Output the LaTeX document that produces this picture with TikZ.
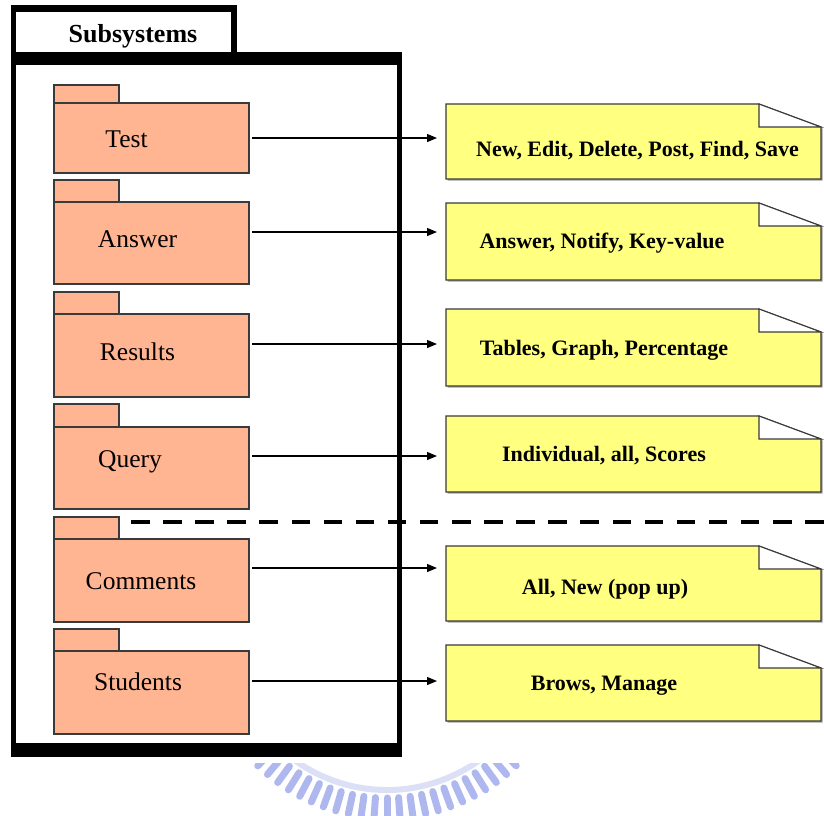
\documentclass[tikz,border=0pt]{standalone}
\usepackage{fontspec}
\setmainfont{Liberation Serif}
\usetikzlibrary{arrows.meta,calc}

\definecolor{pkgfill}{HTML}{FFB592}
\definecolor{notefill}{HTML}{FFFF80}
\definecolor{edgegray}{HTML}{3A3A3A}
\definecolor{shadowgray}{HTML}{A0A0A0}
\definecolor{sealblue}{HTML}{AFB8EE}
\definecolor{seallight}{HTML}{DCE0F6}

% package: name, label, tab top, body top, body height, label x, label y
\newcommand{\pkgbox}[7]{%
  \draw[pkgline] (54,#3) rectangle (119,#4);
  \node[pkgbody, minimum height=#5pt] (#1) at (54,#4) {};
  \node[pkglabel] (#1-label) at (#6,#7) {#2};
}

% note with folded corner: name, top, height, text x, text y, text
\newcommand{\notebox}[6]{%
  \node[notearea, minimum height=#3pt] (#1) at (446,#2) {};
  \fill[shadowgray] ([shift={(1.6pt,-1.6pt)}]#1.north west)
    -- ([shift={(-60.4pt,-1.6pt)}]#1.north east)
    -- ([shift={(1.6pt,-24.6pt)}]#1.north east)
    -- ([shift={(1.6pt,-1.6pt)}]#1.south east)
    -- ([shift={(1.6pt,-1.6pt)}]#1.south west) -- cycle;
  \draw[noteline, fill=notefill] (#1.north west)
    -- ([xshift=-62pt]#1.north east)
    -- ([yshift=-23pt]#1.north east)
    -- (#1.south east) -- (#1.south west) -- cycle;
  \draw[noteline, fill=white] ([xshift=-62pt]#1.north east)
    -- ([xshift=-62pt, yshift=-23pt]#1.north east)
    -- ([yshift=-23pt]#1.north east) -- cycle;
  \node[notelabel] (#1-text) at (#4,#5) {#6};
}

\begin{document}
\begin{tikzpicture}[x=1pt, y=-1pt,
  pkgline/.style={draw=edgegray, line width=1.1pt, fill=pkgfill},
  pkgbody/.style={pkgline, anchor=north west, minimum width=195pt, inner sep=0pt, outer sep=0pt},
  pkglabel/.style={font=\fontsize{25.5}{30}\selectfont, inner sep=0pt, text height=16.9pt, text depth=0pt},
  notearea/.style={anchor=north west, minimum width=375pt, inner sep=0pt, outer sep=0pt},
  noteline/.style={draw=edgegray, line width=1.1pt, line join=miter},
  notelabel/.style={font=\bfseries\fontsize{22}{26}\selectfont, inner sep=0pt, text height=14.6pt, text depth=0pt},
  titlelabel/.style={font=\bfseries\fontsize{26}{30}\selectfont, inner sep=0pt, text height=17.2pt, text depth=0pt},
  conn/.style={line width=1.2pt, -{Triangle[length=10pt, width=8pt]}, shorten <=3pt, shorten >=9pt},
  sepline/.style={line width=4pt, dash pattern=on 18.5pt off 13.6pt}
]
% page area
\useasboundingbox (0,0) rectangle (824,815);
\fill[white] (0,0) rectangle (824,815);

% faint seal in the lower margin
\coordinate (seal) at (387,632);
\begin{scope}
  \clip (0,763) rectangle (824,815);
  \draw[seallight, line width=6pt] ([shift={(40:158)}]seal) arc[start angle=40, end angle=140, radius=158];
  \foreach \a in {46,50,...,134}
    \draw[sealblue, line width=7pt, line cap=round] ($(seal)+(\a:166)$) -- ($(seal)+(\a:186)$);
\end{scope}

% subsystem frame with its title tab
\fill[black] (11,5) rectangle (237,52);
\fill[white] (16,12) rectangle (231,52);
\fill[black] (11,52) rectangle (402,757);
\fill[white] (16,65) rectangle (397,743);
\node[titlelabel] (title) at (133,33.5) {Subsystems};

% packages
\pkgbox{test}{Test}{85}{103}{70}{126.5}{139}
\pkgbox{answer}{Answer}{180}{202}{82}{137.5}{239}
\pkgbox{results}{Results}{292}{314}{83}{137.5}{352}
\pkgbox{query}{Query}{404}{427}{82}{130}{459}
\pkgbox{comments}{Comments}{517}{539}{83}{141}{581}
\pkgbox{students}{Students}{629}{651}{83}{138}{682}

% notes
\notebox{ntest}{104}{75}{637.5}{149}{New, Edit, Delete, Post, Find, Save}
\notebox{nanswer}{203}{77}{602}{241}{Answer, Notify, Key-value}
\notebox{nresults}{309}{77}{604}{348}{Tables, Graph, Percentage}
\notebox{nquery}{416}{76}{604}{454}{Individual, all, Scores}
\notebox{ncomments}{546}{75}{605}{587}{All, New (pop up)}
\notebox{nstudents}{645}{76}{604}{683}{Brows, Manage}

% connectors
\coordinate (test-out) at ([yshift=-35pt]test.north east);
\coordinate (answer-out) at ([yshift=-30pt]answer.north east);
\coordinate (results-out) at ([yshift=-30pt]results.north east);
\coordinate (query-out) at ([yshift=-29pt]query.north east);
\coordinate (comments-out) at ([yshift=-29pt]comments.north east);
\coordinate (students-out) at ([yshift=-30pt]students.north east);
\draw[conn] (test-out) -- (test-out -| ntest.west);
\draw[conn] (answer-out) -- (answer-out -| nanswer.west);
\draw[conn] (results-out) -- (results-out -| nresults.west);
\draw[conn] (query-out) -- (query-out -| nquery.west);
\draw[conn] (comments-out) -- (comments-out -| ncomments.west);
\draw[conn] (students-out) -- (students-out -| nstudents.west);

% separator
\coordinate (sep-l) at (131,522);
\coordinate (sep-r) at (824,522);
\draw[sepline] (sep-l) -- (sep-r);
\end{tikzpicture}
\end{document}
